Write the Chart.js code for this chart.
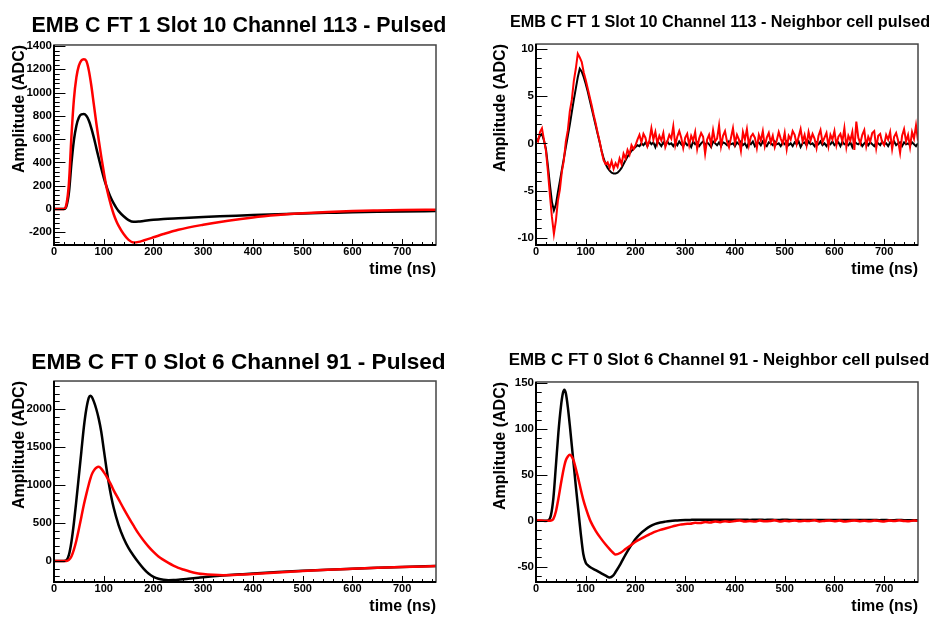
<!DOCTYPE html>
<html>
<head>
<meta charset="utf-8">
<script src="https://cdn.jsdelivr.net/npm/chart.js@4.4.1/dist/chart.umd.min.js"></script>
<style>
    body { margin: 0; background: #fff; }
    #pagina { position: relative; width: 933px; height: 617px; background: #fff; }
    canvas { position: absolute; }
</style>
</head>
<body>
<div id="pagina">
    <canvas id="painel-1" width="466" height="308" style="left:0;top:0"></canvas>
    <canvas id="painel-2" width="467" height="308" style="left:466px;top:0"></canvas>
    <canvas id="painel-3" width="466" height="309" style="left:0;top:308px"></canvas>
    <canvas id="painel-4" width="467" height="309" style="left:466px;top:308px"></canvas>
</div>
<script>
const FONTE = '"Liberation Sans", Arial, Helvetica, sans-serif';
Chart.defaults.font.family = FONTE;
Chart.defaults.color = "#000";

// marcas dos eixos
const ticksTempo = [0, 100, 200, 300, 400, 500, 600, 700];
const ticksYPainel1 = [-200, 0, 200, 400, 600, 800, 1000, 1200, 1400];
const ticksYPainel2 = [-10, -5, 0, 5, 10];
const ticksYPainel3 = [0, 500, 1000, 1500, 2000];
const ticksYPainel4 = [-50, 0, 50, 100, 150];

// painel 1 - pulsado (ns / ADC)
const tempoPainel1 = [0, 10, 15, 20, 25, 30, 35, 40, 45, 50, 55, 60, 65, 70, 75, 80, 85, 90, 95, 100,
    105, 110, 115, 120, 125, 130, 140, 150, 160, 170, 180, 200, 220, 250, 300, 350, 400, 450, 500, 550,
    600, 650, 700, 768];
const pretoPainel1 = [0, 0, 0, 0, 25, 140, 390, 590, 715, 785, 812, 815, 800, 760, 695, 615, 525, 435, 350, 270,
    200, 140, 90, 48, 12, -18, -62, -95, -110, -108, -103, -93, -86, -79, -68, -60, -52, -45, -38, -33,
    -28, -24, -21, -18];
const vermelhoPainel1 = [0, 0, 0, 0, 40, 220, 620, 940, 1130, 1230, 1275, 1285, 1270, 1190, 1060, 900, 740, 590, 450, 320,
    200, 105, 25, -45, -100, -145, -215, -265, -287, -282, -270, -243, -215, -178, -135, -100, -72, -52, -37, -26,
    -18, -13, -9, -6];

// painel 2 - celula vizinha, amostras a cada 4 ns
const passoPainel2 = 4;
const pretoPainel2 = [
    0.2, 0.4, 0.8, 1.0, 0.3, -0.6, -2.4, -4.4, -6.2, -7.1, -6.5, -5.2, -4.0, -2.8, -1.6, -0.4, 0.8, 2.0, 3.3, 4.6, 5.8, 7.0, 7.9, 7.6, 7.0,
    6.3, 5.5, 4.6, 3.7, 2.8, 1.9, 1.0, 0.1, -0.8, -1.6, -2.2, -2.6, -2.9, -3.1, -3.2, -3.2, -3.1, -2.9, -2.6, -2.2, -1.8, -1.4, -1.1, -0.8, -0.6,
    -0.4, -0.2, -0.3, 0.0, -0.2, 0.1, -0.3, 0.2, -0.1, 0.1, -0.4, 0.2, 0.0, -0.3, 0.1, -0.2, 0.2, -0.1, 0.0, -0.3, 0.1, -0.2, 0.2, -0.1, -0.3,
    0.1, -0.2, 0.0, -0.4, 0.2, -0.1, 0.1, -0.3, 0.0, 0.2, -0.2, 0.1, -0.1, -0.4, 0.2, 0.0, -0.2, 0.1, -0.3, 0.1, 0.0, -0.2, 0.2, -0.1, 0.0,
    -0.3, 0.1, -0.1, 0.2, -0.2, 0.0, -0.4, 0.1, -0.1, 0.2, -0.3, 0.0, 0.1, -0.2, 0.2, -0.1, -0.3, 0.1, 0.0, -0.2, 0.2, -0.1, 0.0, -0.3, 0.1,
    -0.1, 0.2, -0.2, 0.0, -0.3, 0.1, -0.1, 0.2, -0.4, 0.0, 0.1, -0.2, 0.2, -0.1, 0.0, -0.3, 0.1, -0.1, 0.2, -0.2, 0.0, -0.3, 0.1, -0.1, 0.2,
    -0.2, 0.0, 0.1, -0.3, 0.2, -0.1, 0.0, -0.2, 0.1, -0.4, 0.2, 0.0, -0.1, 0.1, -0.3, 0.0, 0.2, -0.2, 0.1, -0.1, -0.3, 0.1, 0.0, -0.2, 0.2,
    -0.1, 0.0, -0.3, 0.1, -0.1, 0.2, -0.2, 0.0, 0.1, -0.3, 0.1, -0.1, 0.0, -0.2, 0.1, -0.1, -0.3, 0.0
];
const vermelhoPainel2 = [
    0.5, 0.2, 1.2, 1.6, 0.4, -0.8, -3.0, -5.5, -7.8, -9.6, -8.2, -6.1, -4.9, -3.0, -1.8, 0.2, 1.4, 3.4, 4.6, 6.6, 7.9, 9.5, 9.1, 8.6, 7.5,
    6.7, 5.8, 4.9, 4.0, 3.0, 2.1, 1.1, 0.2, -0.9, -1.8, -2.2, -2.0, -2.6, -1.9, -2.7, -2.1, -2.5, -1.6, -2.2, -1.1, -1.6, -0.7, -1.2, -0.2, -0.6,
    -0.2, 0.4, 0.9, 0.1, 1.0, 0.6, -0.3, 0.3, 1.6, 0.4, 1.2, 0.0, 0.8, 0.3, 1.1, -0.4, 0.2, 0.9, 0.5, 1.8, -0.2, 0.7, 1.3, 0.6, -0.5,
    0.6, 1.0, -0.2, 0.8, 0.3, 1.2, -0.6, 0.5, 1.1, 0.7, -1.1, 0.4, 0.9, -0.1, 1.4, 0.2, 0.5, 1.9, -0.3, 0.8, 1.3, 0.2, -0.4, 0.6, 1.6,
    0.0, 0.9, 0.4, -0.8, 1.2, 0.4, 1.5, -0.2, 0.7, 1.0, 0.6, -0.5, 0.9, 0.3, 1.3, -0.3, 0.6, 1.1, 0.1, 0.8, -0.4, 0.3, 1.2, 0.5, 0.0,
    1.1, -0.6, 0.8, 0.4, 1.3, 0.9, -0.1, 0.7, 1.5, 0.2, 0.9, -0.2, 1.2, 0.3, 1.0, 0.5, -0.5, 0.8, 1.4, 0.1, 0.6, 1.1, -0.3, 0.9, 0.4,
    1.3, -0.2, 0.7, 1.0, 0.2, 1.6, -0.4, 0.8, 0.3, 1.2, -0.7, 2.3, 0.6, 0.0, 0.9, 1.4, -0.3, 0.7, 0.2, 1.1, 1.3, -0.5, 0.8, 1.0, 0.1,
    -0.2, 0.9, 0.4, 1.2, -0.6, 0.7, 1.1, 0.3, -1.0, 0.8, 1.5, 0.2, 0.9, -0.4, 1.2, 0.5, 1.9, 0.3
];

// painel 3 - pulsado
const tempoPainel3 = [0, 10, 20, 25, 30, 35, 40, 45, 50, 55, 60, 65, 70, 73, 76, 80, 85, 90, 95, 100,
    105, 110, 115, 120, 130, 140, 150, 160, 170, 180, 190, 200, 210, 220, 230, 240, 250, 260, 270, 280,
    290, 300, 320, 340, 360, 380, 400, 450, 500, 550, 600, 650, 700, 768];
const pretoPainel3 = [0, 0, 0, 10, 80, 250, 500, 800, 1120, 1440, 1760, 2000, 2150, 2175, 2160, 2100, 2000, 1870, 1700, 1470,
    1240, 1030, 850, 700, 470, 300, 170, 70, -20, -100, -165, -208, -234, -247, -252, -250, -246, -240, -233, -226,
    -219, -212, -200, -190, -181, -173, -165, -146, -129, -114, -101, -89, -78, -66];
const vermelhoPainel3 = [0, 0, 0, 0, 15, 60, 150, 270, 420, 580, 740, 880, 1010, 1080, 1140, 1190, 1228, 1240, 1215, 1170,
    1120, 1060, 1000, 930, 810, 690, 575, 465, 360, 270, 190, 120, 60, 15, -25, -60, -90, -112, -132, -150,
    -163, -172, -182, -186, -184, -178, -170, -150, -131, -115, -102, -90, -79, -67];

// painel 4 - celula vizinha
const tempoPainel4 = [0, 10, 20, 25, 30, 35, 40, 45, 50, 54, 57, 60, 64, 68, 72, 76, 80, 85, 90, 95,
    100, 105, 110, 120, 130, 140, 148, 155, 160, 170, 180, 190, 200, 210, 220, 230, 240, 250, 260, 270,
    280, 290, 300, 310, 320, 330, 340, 350, 360, 370, 380, 390, 400, 410, 420, 430, 440, 450, 460, 470,
    480, 490, 500, 510, 520, 530, 540, 550, 560, 570, 580, 590, 600, 610, 620, 630, 640, 650, 660, 670,
    680, 690, 700, 710, 720, 730, 740, 750, 760, 768];
const pretoPainel4 = [0, 0, 0, 0.5, 6, 25, 60, 96, 124, 139, 143, 139, 124, 104, 82, 60, 38, 12, -14, -36,
    -46, -49, -51, -54, -57, -60, -62, -60, -56, -47, -37, -28, -20, -14, -9.5, -6, -3.5, -2, -1, -0.2,
    0.3, 0.6, 0.8, 0.9, 1.0, 1.0, 1.1, 1.0, 1.1, 1.0, 1.0, 1.1, 1.0, 1.0, 1.0, 0.9, 1.0, 1.0, 0.9, 1.0,
    0.9, 0.9, 1.0, 0.9, 0.9, 0.8, 0.9, 0.9, 0.8, 0.8, 0.9, 0.8, 0.8, 0.8, 0.7, 0.8, 0.7, 0.7, 0.8, 0.7,
    0.7, 0.6, 0.7, 0.6, 0.6, 0.7, 0.6, 0.6, 0.6, 0.5];
const vermelhoPainel4 = [0, 0.3, -0.2, 0, 0.2, 2, 10, 24, 40, 52, 60, 66, 70, 72, 70, 65, 57, 46, 34, 23,
    14, 6, -1, -11, -19, -26, -31, -35, -37, -35, -31, -27, -23, -20, -17, -14.5, -12, -10, -8.5, -7,
    -5.5, -4.3, -3.5, -3.4, -2.2, -2.6, -1.4, -2.0, -0.9, -1.6, -0.5, -1.2, -0.4, 0.3, -0.8, -0.2, -1.0, 0.1, -0.6, -0.3,
    0.4, -0.9, -0.1, -0.5, 0.3, -0.7, 0.0, -0.4, 0.5, -0.8, -0.2, 0.2, -0.6, 0.1, -0.9, -0.3, 0.3, -0.5, 0.0, -0.7,
    0.2, -0.3, -0.8, 0.1, -0.4, 0.4, -0.2, -0.6, 0.2, -0.1];

const paraPontos = (tempos, valores) => valores.map((v, i) => ({ x: tempos[i], y: v }));
const paraPontosAmostrados = (passo, valores) => valores.map((v, i) => ({ x: i * passo, y: v }));

const ehMultiplo = (v, passo) => Math.abs(v / passo - Math.round(v / passo)) < 1e-6;

// moldura e marcas para dentro, estilo ROOT
const moldura = {
    id: "moldura",
    afterDraw(chart, args, opts) {
        const { ctx, chartArea: area } = chart;
        const escalaX = chart.scales.x;
        const escalaY = chart.scales.y;
        const tamX = area.height * 0.03;
        const tamY = area.width * 0.03;

        ctx.save();
        ctx.lineWidth = 1;
        ctx.strokeStyle = "#000";
        ctx.beginPath();
        for (let v = Math.ceil(escalaX.min / opts.subX) * opts.subX; v <= escalaX.max; v += opts.subX) {
            const px = Math.round(escalaX.getPixelForValue(v)) + 0.5;
            const tam = ehMultiplo(v, opts.passoX) ? tamX : tamX / 2;
            ctx.moveTo(px, area.bottom);
            ctx.lineTo(px, area.bottom - tam);
        }
        for (let v = Math.ceil(escalaY.min / opts.subY) * opts.subY; v <= escalaY.max; v += opts.subY) {
            const py = Math.round(escalaY.getPixelForValue(v)) + 0.5;
            const tam = ehMultiplo(v, opts.passoY) ? tamY : tamY / 2;
            ctx.moveTo(area.left, py);
            ctx.lineTo(area.left + tam, py);
        }
        ctx.stroke();

        ctx.lineWidth = 1.5;
        ctx.strokeStyle = "#444";
        ctx.strokeRect(area.left, area.top, area.width, area.height);
        ctx.lineWidth = 2;
        ctx.strokeStyle = "#000";
        ctx.beginPath();
        ctx.moveTo(area.left, area.top);
        ctx.lineTo(area.left, area.bottom);
        ctx.lineTo(area.right, area.bottom);
        ctx.stroke();
        ctx.restore();
    },
};

const fonteEixoX = { family: FONTE, size: 11, weight: "bold" };
const fonteEixoY = { family: FONTE, size: 11.5, weight: "bold" };
const fonteTituloEixo = { family: FONTE, size: 16, weight: "bold" };

const criarGrafico = (idCanvas, cfg) => {
    const ctx = document.getElementById(idCanvas).getContext("2d");
    const curva = (dados, cor) => ({
        data: dados,
        borderColor: cor,
        borderWidth: cfg.espessura,
        pointRadius: 0,
        fill: false,
        tension: 0,
        cubicInterpolationMode: cfg.suave ? "monotone" : "default",
    });

    return new Chart(ctx, {
        type: "line",
        data: {
            datasets: [curva(cfg.vermelho, "#ff0000"), curva(cfg.preto, "#000000")],
        },
        options: {
            responsive: false,
            animation: false,
            devicePixelRatio: 1,
            layout: { padding: { left: cfg.margemEsq, right: 0, top: 0, bottom: 0 } },
            plugins: {
                legend: { display: false },
                tooltip: { enabled: false },
                title: {
                    display: true,
                    text: cfg.titulo,
                    color: "#000",
                    font: { family: FONTE, size: cfg.tamTitulo, weight: "bold" },
                    padding: cfg.padTitulo,
                },
                moldura: { passoX: 100, subX: 20, passoY: cfg.passoY, subY: cfg.subY },
            },
            scales: {
                x: {
                    type: "linear",
                    min: 0,
                    max: 768,
                    grid: { display: false, drawTicks: false },
                    border: { display: false },
                    ticks: {
                        autoSkip: false,
                        maxRotation: 0,
                        padding: 0,
                        font: fonteEixoX,
                        color: "#000",
                        callback: (v) => String(v),
                    },
                    afterBuildTicks: (escala) => {
                        escala.ticks = ticksTempo.map((v) => ({ value: v }));
                    },
                    title: {
                        display: true,
                        text: "time (ns)",
                        align: "end",
                        color: "#000",
                        font: fonteTituloEixo,
                        padding: { top: 0, bottom: cfg.padTituloX },
                    },
                    afterFit: (escala) => {
                        escala.height = cfg.alturaX;
                    },
                },
                y: {
                    type: "linear",
                    min: cfg.yMin,
                    max: cfg.yMax,
                    grid: { display: false, drawTicks: false },
                    border: { display: false },
                    ticks: {
                        autoSkip: false,
                        padding: 2,
                        font: fonteEixoY,
                        color: "#000",
                        callback: (v) => String(v),
                    },
                    afterBuildTicks: (escala) => {
                        escala.ticks = cfg.ticksY.map((v) => ({ value: v }));
                    },
                    title: {
                        display: true,
                        text: "Amplitude (ADC)",
                        align: "end",
                        color: "#000",
                        font: fonteTituloEixo,
                        padding: { top: cfg.padTituloY, bottom: 0 },
                    },
                    afterFit: (escala) => {
                        escala.width = cfg.larguraY;
                    },
                },
                // faixa vazia à direita, só para centrar o título como no ROOT
                direita: {
                    type: "linear",
                    position: "right",
                    grid: { display: false, drawTicks: false },
                    border: { display: false },
                    ticks: { display: false },
                    afterFit: (escala) => {
                        escala.width = cfg.larguraDir;
                    },
                },
            },
        },
        plugins: [moldura],
    });
};

criarGrafico("painel-1", {
    titulo: "EMB C FT 1 Slot 10 Channel 113 - Pulsed",
    tamTitulo: 21.4,
    padTitulo: { top: 13.2, bottom: 6.1 },
    margemEsq: 12, larguraY: 42, larguraDir: 30, alturaX: 63,
    padTituloY: -1.6, padTituloX: 28.4,
    yMin: -309, yMax: 1408, ticksY: ticksYPainel1, passoY: 200, subY: 40,
    preto: paraPontos(tempoPainel1, pretoPainel1),
    vermelho: paraPontos(tempoPainel1, vermelhoPainel1),
    suave: true, espessura: 2.5,
});

criarGrafico("painel-2", {
    titulo: "EMB C FT 1 Slot 10 Channel 113 - Neighbor cell pulsed",
    tamTitulo: 16.2,
    padTitulo: { top: 13.3, bottom: 11.3 },
    margemEsq: 41, larguraY: 29, larguraDir: 15, alturaX: 63,
    padTituloY: -15.6, padTituloX: 28.4,
    yMin: -10.77, yMax: 10.52, ticksY: ticksYPainel2, passoY: 5, subY: 1,
    preto: paraPontosAmostrados(passoPainel2, pretoPainel2),
    vermelho: paraPontosAmostrados(passoPainel2, vermelhoPainel2),
    suave: false, espessura: 2,
});

criarGrafico("painel-3", {
    titulo: "EMB C FT 0 Slot 6 Channel 91 - Pulsed",
    tamTitulo: 22.6,
    padTitulo: { top: 41.7, bottom: 4.2 },
    margemEsq: 11, larguraY: 43, larguraDir: 30, alturaX: 35,
    padTituloY: -1.1, padTituloX: 0.4,
    yMin: -276, yMax: 2368, ticksY: ticksYPainel3, passoY: 500, subY: 100,
    preto: paraPontos(tempoPainel3, pretoPainel3),
    vermelho: paraPontos(tempoPainel3, vermelhoPainel3),
    suave: true, espessura: 2.5,
});

criarGrafico("painel-4", {
    titulo: "EMB C FT 0 Slot 6 Channel 91 - Neighbor cell pulsed",
    tamTitulo: 16.9,
    padTitulo: { top: 41.9, bottom: 11.8 },
    margemEsq: 39, larguraY: 31, larguraDir: 15, alturaX: 35,
    padTituloY: -13.6, padTituloX: 0.7,
    yMin: -66.9, yMax: 151.4, ticksY: ticksYPainel4, passoY: 50, subY: 10,
    preto: paraPontos(tempoPainel4, pretoPainel4),
    vermelho: paraPontos(tempoPainel4, vermelhoPainel4),
    suave: true, espessura: 2.5,
});
</script>
</body>
</html>
